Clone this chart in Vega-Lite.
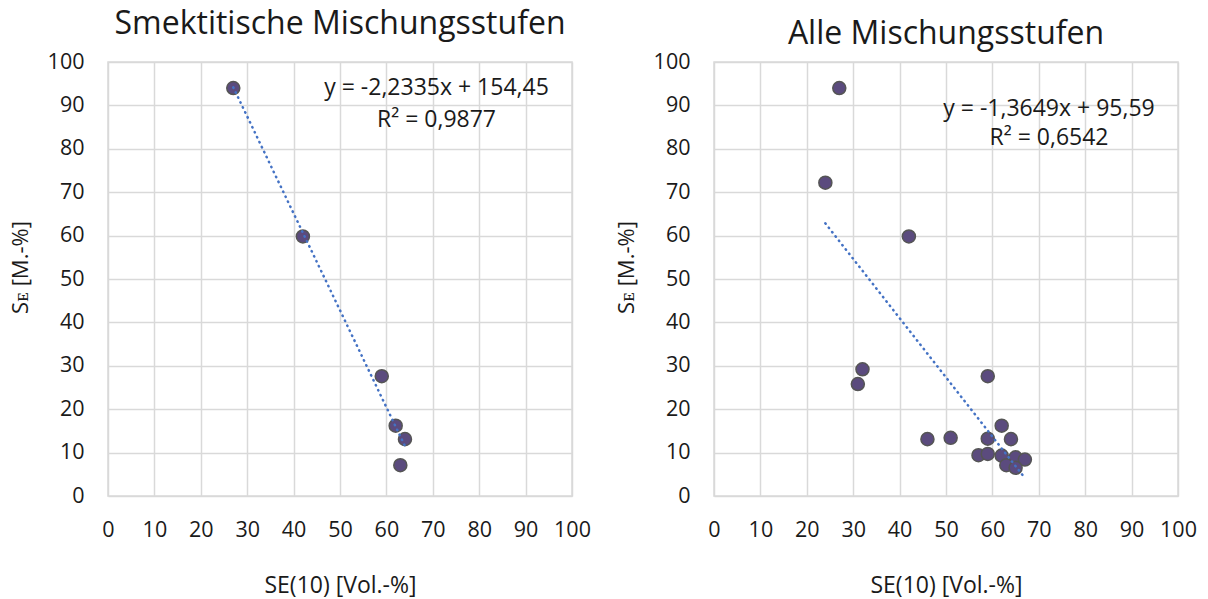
{
  "$schema": "https://vega.github.io/schema/vega-lite/v6.json",
  "background": "white",
  "padding": {"left": 8, "top": 7, "right": 5, "bottom": 0},
  "spacing": 142,
  "bounds": "flush",
  "datasets": {
    "smektitisch": [
      {"se10": 27, "s_e": 94.0},
      {"se10": 42, "s_e": 59.8},
      {"se10": 59, "s_e": 27.6},
      {"se10": 62, "s_e": 16.2},
      {"se10": 64, "s_e": 13.1},
      {"se10": 63, "s_e": 7.1}
    ],
    "alle": [
      {"se10": 27, "s_e": 94.0},
      {"se10": 24, "s_e": 72.2},
      {"se10": 42, "s_e": 59.8},
      {"se10": 32, "s_e": 29.2},
      {"se10": 31, "s_e": 25.8},
      {"se10": 59, "s_e": 27.6},
      {"se10": 62, "s_e": 16.2},
      {"se10": 46, "s_e": 13.1},
      {"se10": 51, "s_e": 13.4},
      {"se10": 59, "s_e": 13.2},
      {"se10": 64, "s_e": 13.1},
      {"se10": 57, "s_e": 9.4},
      {"se10": 59, "s_e": 9.7},
      {"se10": 62, "s_e": 9.3},
      {"se10": 65, "s_e": 8.9},
      {"se10": 67, "s_e": 8.4},
      {"se10": 63, "s_e": 7.1},
      {"se10": 65, "s_e": 6.5}
    ],
    "trend_smektitisch": [
      {"se10": 27, "s_e": 94.15},
      {"se10": 64, "s_e": 11.51}
    ],
    "trend_alle": [
      {"se10": 24, "s_e": 62.83},
      {"se10": 67, "s_e": 4.14}
    ]
  },
  "config": {
    "font": "Open Sans",
    "view": {"stroke": "#D9D9D9", "strokeWidth": 1.5},
    "axis": {
      "grid": true,
      "gridColor": "#D9D9D9",
      "gridWidth": 1.5,
      "domain": false,
      "ticks": false,
      "labelOverlap": false,
      "labelFlush": false,
      "labelFont": "Open Sans",
      "labelFontSize": 21.5,
      "labelColor": "#1a1a1a",
      "titleFont": "Open Sans",
      "titleFontSize": 23,
      "titleFontWeight": "normal",
      "titleColor": "#1a1a1a"
    },
    "axisX": {"labelPadding": 23, "titlePadding": 34},
    "axisY": {"labelPadding": 24, "titlePadding": 15, "titleFontSize": 22, "titleY": 205},
    "title": {"font": "Open Sans", "fontSize": 32, "fontWeight": "normal", "color": "#1a1a1a", "anchor": "middle"}
  },
  "hconcat": [
    {
      "width": 464,
      "height": 434,
      "title": {"text": "Smektitische Mischungsstufen", "offset": 10},
      "layer": [
        {
          "data": {"name": "smektitisch"},
          "mark": {"type": "circle", "size": 170, "fill": "#5B4B7E", "stroke": "#555555", "strokeWidth": 1.5, "opacity": 1},
          "encoding": {
            "x": {"field": "se10", "type": "quantitative", "scale": {"domain": [0, 100]},
                  "axis": {"values": [0, 10, 20, 30, 40, 50, 60, 70, 80, 90, 100], "title": "SE(10) [Vol.-%]"}},
            "y": {"field": "s_e", "type": "quantitative", "scale": {"domain": [0, 100]},
                  "axis": {"values": [0, 10, 20, 30, 40, 50, 60, 70, 80, 90, 100], "title": "Sᴇ [M.-%]"}}
          }
        },
        {
          "data": {"name": "trend_smektitisch"},
          "mark": {"type": "line", "color": "#4472C4", "strokeWidth": 2.5, "strokeDash": [0.5, 5], "strokeCap": "round"},
          "encoding": {
            "x": {"field": "se10", "type": "quantitative"},
            "y": {"field": "s_e", "type": "quantitative"}
          }
        },
        {
          "data": {"values": [{}]},
          "mark": {"type": "text", "text": "y = -2,2335x + 154,45", "fontSize": 23, "color": "#1a1a1a"},
          "encoding": {"x": {"datum": 70.8}, "y": {"datum": 94.0}}
        },
        {
          "data": {"values": [{}]},
          "mark": {"type": "text", "text": "R² = 0,9877", "fontSize": 23, "color": "#1a1a1a"},
          "encoding": {"x": {"datum": 70.8}, "y": {"datum": 86.6}}
        }
      ]
    },
    {
      "width": 464,
      "height": 434,
      "title": {"text": "Alle Mischungsstufen", "offset": 0},
      "layer": [
        {
          "data": {"name": "alle"},
          "mark": {"type": "circle", "size": 170, "fill": "#5B4B7E", "stroke": "#555555", "strokeWidth": 1.5, "opacity": 1},
          "encoding": {
            "x": {"field": "se10", "type": "quantitative", "scale": {"domain": [0, 100]},
                  "axis": {"values": [0, 10, 20, 30, 40, 50, 60, 70, 80, 90, 100], "title": "SE(10) [Vol.-%]"}},
            "y": {"field": "s_e", "type": "quantitative", "scale": {"domain": [0, 100]},
                  "axis": {"values": [0, 10, 20, 30, 40, 50, 60, 70, 80, 90, 100], "title": "Sᴇ [M.-%]"}}
          }
        },
        {
          "data": {"name": "trend_alle"},
          "mark": {"type": "line", "color": "#4472C4", "strokeWidth": 2.5, "strokeDash": [0.5, 5], "strokeCap": "round"},
          "encoding": {
            "x": {"field": "se10", "type": "quantitative"},
            "y": {"field": "s_e", "type": "quantitative"}
          }
        },
        {
          "data": {"values": [{}]},
          "mark": {"type": "text", "text": "y = -1,3649x + 95,59", "fontSize": 23, "color": "#1a1a1a"},
          "encoding": {"x": {"datum": 72.2}, "y": {"datum": 89.2}}
        },
        {
          "data": {"values": [{}]},
          "mark": {"type": "text", "text": "R² = 0,6542", "fontSize": 23, "color": "#1a1a1a"},
          "encoding": {"x": {"datum": 72.2}, "y": {"datum": 82.5}}
        }
      ]
    }
  ]
}
